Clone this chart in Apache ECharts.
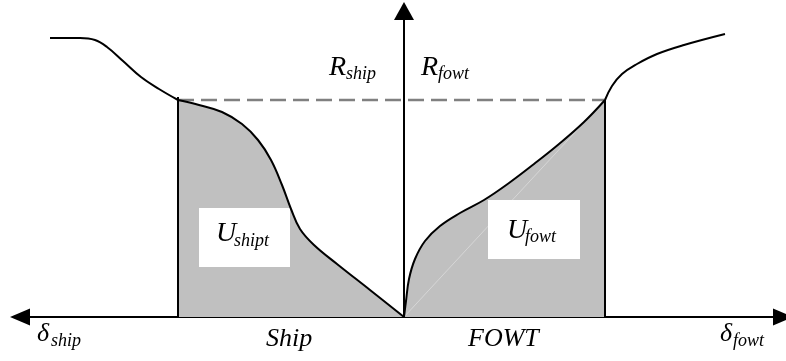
<!DOCTYPE html>
<html>
<head>
<meta charset="utf-8">
<script src="https://cdn.jsdelivr.net/npm/echarts@6/dist/echarts.min.js"></script>
<style>
  html, body { margin: 0; padding: 0; background: #fff; }
  #chart { width: 786px; height: 361px; }
</style>
</head>
<body>
<div id="chart"></div>
<script>
// Resistance–deformation curves of the colliding ship (left, delta measured leftwards)
// and the floating offshore wind turbine (right). x = deformation, y = resistance.

// Ship curve beyond the peak deformation (not shaded)
const shipOuter = [
  [-354, 279], [-324, 279], [-309, 277], [-297, 270], [-281, 256],
  [-263, 240], [-245, 228], [-226, 217]
];
// Ship curve up to the peak deformation (strain energy U_shipt below it)
const shipInner = [
  [-226, 217], [-205, 212], [-182, 205], [-162, 193], [-146, 177],
  [-133, 157], [-122, 132], [-113, 108], [-104, 88], [-90, 72],
  [-67, 53], [-34, 27], [0, 0]
];
// FOWT curve up to the peak deformation (strain energy U_fowt below it)
const fowtInner = [
  [0, 0], [2, 16], [5, 38], [11, 58], [21, 76], [36, 91], [56, 104],
  [80, 117], [105, 134], [130, 153], [155, 173], [180, 195], [201, 217]
];
// FOWT curve beyond the peak deformation (not shaded)
const fowtOuter = [
  [201, 217], [208, 231], [218, 243], [233, 253], [253, 263],
  [280, 272], [321, 283]
];
// Peak deformations and the common peak resistance
const shipPeak = [-226, 220];
const fowtPeak = [201, 217];
const peakForce = 217;

// Text labels
const mainLabels = ['Ship', 'FOWT'];

const FONT = '"Liberation Serif", "DejaVu Serif", serif';
const SHADE = '#c0c0c0';

const chart = echarts.init(document.getElementById('chart'), null, { renderer: 'canvas' });

function txt(text, x, y, size, z) {
  return {
    type: 'text', x: x, y: y, z: z || 10,
    style: {
      text: text, font: 'italic ' + size + 'px ' + FONT, fill: '#000',
      align: 'left', verticalAlign: 'middle'
    }
  };
}

function areaSeries(data) {
  return {
    type: 'line', data: data, smooth: 0.4, showSymbol: false, z: 1,
    lineStyle: { width: 0 }, areaStyle: { color: SHADE, opacity: 1 },
    silent: true
  };
}
function curveSeries(data) {
  return {
    type: 'line', data: data, smooth: 0.4, showSymbol: false, z: 5,
    lineStyle: { color: '#000', width: 2 }, silent: true
  };
}
function straight(data, style, z) {
  return {
    type: 'line', data: data, showSymbol: false, z: z || 4,
    lineStyle: style, silent: true
  };
}

chart.setOption({
  animation: false,
  backgroundColor: '#fff',
  grid: { left: 20, right: 3, top: 11, bottom: 44 },
  xAxis: {
    type: 'value', min: -384, max: 379,
    axisLine: {
      show: true, onZero: true,
      lineStyle: { color: '#000', width: 2 },
      symbol: ['triangle', 'triangle'], symbolSize: [17, 20]
    },
    axisTick: { show: false }, axisLabel: { show: false }, splitLine: { show: false }
  },
  yAxis: {
    type: 'value', min: 0, max: 306,
    axisLine: {
      show: true, onZero: true,
      lineStyle: { color: '#000', width: 2 },
      symbol: ['none', 'triangle'], symbolSize: [20, 18]
    },
    axisTick: { show: false }, axisLabel: { show: false }, splitLine: { show: false }
  },
  series: [
    areaSeries(shipInner),
    areaSeries(fowtInner),
    // faint diagonal inside the FOWT area
    straight([[0, 0], fowtPeak], { color: '#d6d6d6', width: 1 }, 2),
    // peak resistance level
    straight([[shipPeak[0], peakForce], [fowtPeak[0], peakForce]],
      { color: '#808080', width: 2.5, type: [16, 7] }, 3),
    // vertical bounds of the shaded areas
    straight([[shipPeak[0], 0], shipPeak], { color: '#000', width: 2 }, 4),
    straight([[fowtPeak[0], 0], fowtPeak], { color: '#000', width: 2 }, 4),
    curveSeries(shipOuter),
    curveSeries(shipInner),
    curveSeries(fowtInner),
    curveSeries(fowtOuter)
  ],
  graphic: [
    { type: 'rect', z: 3, shape: { x: 199, y: 208, width: 91, height: 59 }, style: { fill: '#fff' } },
    { type: 'rect', z: 3, shape: { x: 488, y: 200, width: 92, height: 59 }, style: { fill: '#fff' } },
    txt('R', 329, 67.5, 28), txt('ship', 346, 74.5, 18),
    txt('R', 421, 67.5, 28), txt('fowt', 438, 74.5, 18),
    txt('U', 216, 233.5, 28), txt('shipt', 234, 241, 18),
    txt('U', 507, 230.5, 28), txt('fowt', 525, 237.5, 18),
    txt('δ', 37, 334, 26), txt('ship', 51, 341, 18),
    txt(mainLabels[0], 266, 339, 26),
    txt(mainLabels[1], 468, 339, 26),
    txt('δ', 720, 334, 26), txt('fowt', 733, 341, 18)
  ]
});
</script>
</body>
</html>
